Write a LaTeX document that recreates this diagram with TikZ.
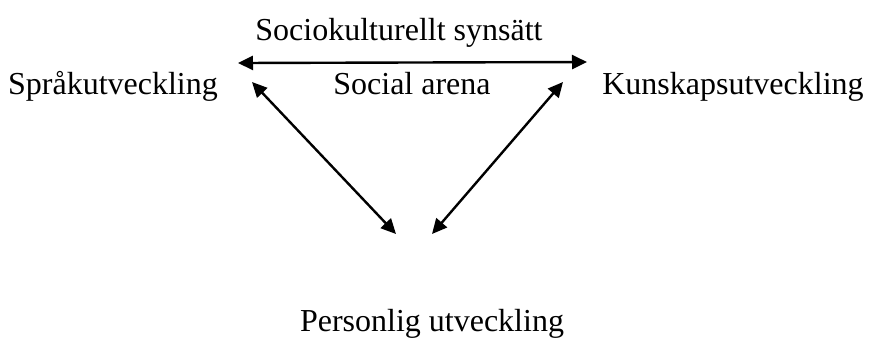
\documentclass[tikz,border=0pt]{standalone}
\usepackage{fontspec}
\setmainfont{Liberation Serif}
\usetikzlibrary{arrows.meta}
\begin{document}
\begin{tikzpicture}[x=0.5pt,y=-0.5pt,
  lbl/.style={inner sep=0pt,anchor=base,font=\fontsize{16}{19}\selectfont},
  conn/.style={line width=1.2pt,{Triangle[length=7.5pt,width=7pt]}-{Triangle[length=7.5pt,width=7pt]}}]
\useasboundingbox (0,0) rectangle (874,345);
\node[lbl] (soc) at (399,40) {Sociokulturellt synsätt};
\node[lbl] (spr) at (113,94) {Språkutveckling};
\node[lbl] (are) at (412,94) {Social arena};
\node[lbl] (kun) at (733,94) {Kunskapsutveckling};
\node[lbl] (per) at (432,331) {Personlig utveckling};
\coordinate (h1) at (238,63);
\coordinate (h2) at (587,62);
\coordinate (l1) at (252,82);
\coordinate (l2) at (396,234);
\coordinate (r1) at (563,82);
\coordinate (r2) at (432,234);
\draw[conn] (h1) -- (h2);
\draw[conn] (l1) -- (l2);
\draw[conn] (r1) -- (r2);
\end{tikzpicture}
\end{document}
